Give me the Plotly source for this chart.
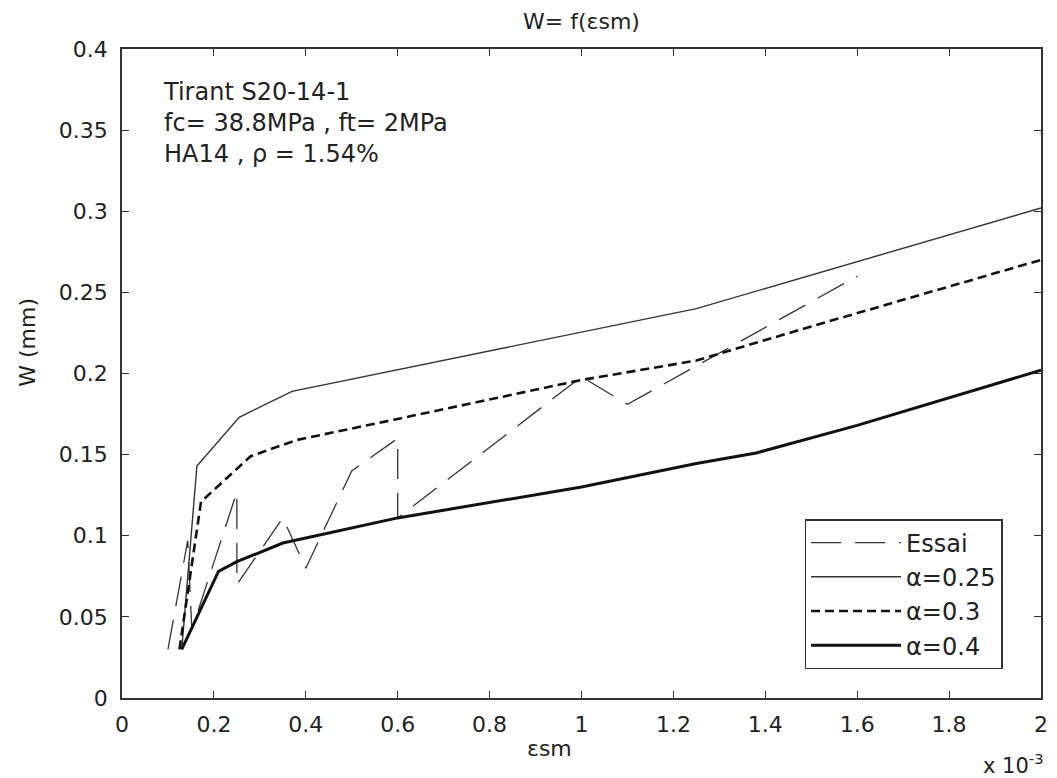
import plotly.graph_objects as go

# ---- data ----
essai_x = [0.10, 0.143, 0.152, 0.25, 0.25, 0.35, 0.40, 0.50, 0.60, 0.60, 1.00, 1.10, 1.60]
essai_y = [0.030, 0.097, 0.042, 0.127, 0.070, 0.111, 0.080, 0.140, 0.160, 0.111, 0.198, 0.181, 0.260]

a025_x = [0.13, 0.163, 0.255, 0.37, 1.25, 2.0]
a025_y = [0.030, 0.143, 0.173, 0.189, 0.240, 0.302]

a03_x = [0.125, 0.172, 0.28, 0.38, 0.60, 0.82, 1.00, 1.25, 1.50, 2.0]
a03_y = [0.030, 0.121, 0.149, 0.159, 0.172, 0.185, 0.196, 0.208, 0.229, 0.270]

a04_x = [0.13, 0.21, 0.25, 0.30, 0.35, 0.43, 0.60, 1.00, 1.25, 1.38, 1.60, 2.0]
a04_y = [0.030, 0.078, 0.084, 0.090, 0.0955, 0.1005, 0.111, 0.130, 0.1445, 0.151, 0.168, 0.202]

series_names = ["Essai", "α=0.25", "α=0.3", "α=0.4"]

# ---- layout helpers (pixel -> paper) ----
W, H = 1057, 778
L, R, T, B = 122, 1048, 49, 698


def pxx(p):
    return (p - L) / (R - L)


def pxy(p):
    return (B - p) / (B - T)


fig = go.Figure()
fig.add_trace(go.Scatter(x=essai_x, y=essai_y, mode="lines", name=series_names[0],
                         line=dict(color="#333333", width=1.3, dash="30px,14px")))
fig.add_trace(go.Scatter(x=a025_x, y=a025_y, mode="lines", name=series_names[1],
                         line=dict(color="#333333", width=1.4)))
fig.add_trace(go.Scatter(x=a03_x, y=a03_y, mode="lines", name=series_names[2],
                         line=dict(color="#111111", width=2.6, dash="9px,5px")))
fig.add_trace(go.Scatter(x=a04_x, y=a04_y, mode="lines", name=series_names[3],
                         line=dict(color="#111111", width=3)))

axis_common = dict(showline=True, linecolor="#333333", linewidth=1.5, mirror="ticks",
                   ticks="inside", ticklen=7, tickcolor="#333333", tickwidth=1.2,
                   showgrid=False, zeroline=False,
                   tickfont=dict(family="DejaVu Sans", size=22, color="#222222"))

fig.update_xaxes(range=[0, 2], tick0=0, dtick=0.2, ticklabelstandoff=6, **axis_common)
fig.update_yaxes(range=[0, 0.4], tick0=0, dtick=0.05, ticklabelstandoff=8, **axis_common)

fig.update_layout(
    width=W, height=H,
    margin=dict(l=L, r=W - R, t=T, b=H - B, pad=0),
    paper_bgcolor="white", plot_bgcolor="white",
    font=dict(family="DejaVu Sans", size=22, color="#222222"),
    title=dict(text="W= f(εsm)", x=pxx(585), xref="paper", xanchor="center",
               y=1 - 21 / H, yref="container", yanchor="middle",
               font=dict(size=22, color="#222222")),
    showlegend=True,
    legend=dict(x=pxx(909.5), y=pxy(669), xanchor="center", yanchor="bottom",
                bordercolor="#333333", borderwidth=1.5, bgcolor="white",
                font=dict(size=24, color="#222222"), itemwidth=90, tracegroupgap=0),
    annotations=[
        dict(text="Tirant S20-14-1<br>fc= 38.8MPa , ft= 2MPa<br>HA14 , ρ = 1.54%",
             x=pxx(161), y=pxy(76), xref="paper", yref="paper",
             xanchor="left", yanchor="top", align="left", showarrow=False,
             font=dict(size=24, color="#222222")),
        dict(text="W (mm)", textangle=-90, x=pxx(26), y=pxy(342), xref="paper", yref="paper",
             xanchor="center", yanchor="middle", showarrow=False,
             font=dict(size=22, color="#222222")),
        dict(text="εsm", x=pxx(553), y=pxy(748), xref="paper", yref="paper",
             xanchor="center", yanchor="middle", showarrow=False,
             font=dict(size=22, color="#222222")),
        dict(text="x 10<sup>-3</sup>", x=pxx(1052), y=pxy(764), xref="paper", yref="paper",
             xanchor="right", yanchor="middle", showarrow=False,
             font=dict(size=21, color="#222222")),
    ],
)

fig.write_html("out.html")
